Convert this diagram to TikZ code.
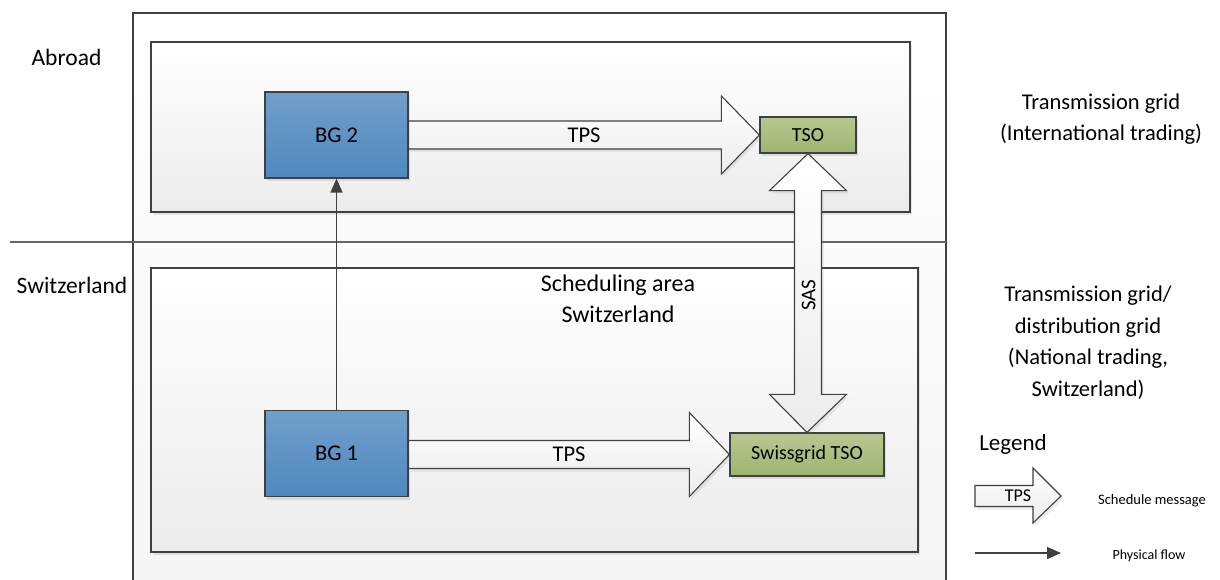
\documentclass[tikz,border=0pt]{standalone}
\usepackage{fontspec}
\setmainfont{Carlito}
\usetikzlibrary{calc,shadows,arrows.meta}

\definecolor{edge}{RGB}{64,64,64}
\definecolor{bgtop}{RGB}{112,159,203}
\definecolor{bgbot}{RGB}{80,136,190}
\definecolor{gntop}{RGB}{184,198,144}
\definecolor{gnbot}{RGB}{160,181,112}
\definecolor{paneltop}{RGB}{255,255,255}
\definecolor{panelbot}{RGB}{236,236,236}

\tikzset{
  txt/.style={font=\fontsize{22.5}{31.5}\selectfont, align=center, inner sep=0pt},
  panel/.style={draw=edge, line width=1.1pt, top color=paneltop, bottom color=panelbot,
    drop shadow={shadow xshift=2pt, shadow yshift=-3pt, opacity=0.18}},
  bgbox/.style={draw=edge, line width=1.2pt, top color=bgtop, bottom color=bgbot,
    minimum width=143pt, minimum height=86pt, inner sep=0pt,
    font=\fontsize{22.5}{27}\selectfont,
    drop shadow={shadow xshift=2pt, shadow yshift=-3pt, opacity=0.2}},
  tsobox/.style={draw=edge, line width=1.2pt, top color=gntop, bottom color=gnbot,
    inner sep=0pt, font=\fontsize{20}{24}\selectfont,
    drop shadow={shadow xshift=2pt, shadow yshift=-3pt, opacity=0.2}},
  blockarrow/.style={draw=edge, line width=1.1pt, line join=miter, top color=white, bottom color=panelbot,
    drop shadow={shadow xshift=2pt, shadow yshift=-3pt, opacity=0.15}},
  flow/.style={draw=edge, line width=1.3pt, -{Triangle[length=14pt,width=12pt]}},
}

\begin{document}
\begin{tikzpicture}[x=1pt, y=-1pt]
\useasboundingbox (0,0) rectangle (1220,579);
\clip (0,0) rectangle (1220,579);

% outer frame, open towards the bottom
\path[top color=white, bottom color=white!96!black] (133,13) rectangle (946,600);
\draw[edge, line width=1.1pt] (133,600) -- (133,13) -- (946,13) -- (946,600);

% border between the two countries
\draw[edge!80, line width=1.1pt] (10,242) -- (946,242);

% grid level panels
\path[panel] (151,42) rectangle (910,212);
\path[panel] (151,268) rectangle (918,552);

% side labels
\node[txt, font=\fontsize{23.5}{31.5}\selectfont] (abroad) at (66.5,57) {Abroad};
\node[txt, font=\fontsize{23.5}{31.5}\selectfont] (ch) at (72,285) {Switzerland};
\node[txt, font=\fontsize{24}{31.5}\selectfont] (area) at (618,298.5) {Scheduling area\\Switzerland};
\node[txt] (tgint) at (1101,119) {Transmission grid\\(International trading)};
\node[txt] (tgnat) at (1088,342.5) {Transmission grid/\\distribution grid\\(National trading,\\Switzerland)};

% participants
\node[bgbox] (bg2) at (336.5,135) {BG 2};
\node[bgbox] (bg1) at (336.5,453.5) {BG 1};
\node[tsobox, minimum width=96pt, minimum height=36pt] (tso) at (808,135) {TSO};
\node[tsobox, minimum width=154pt, minimum height=43pt] (sgtso) at (807,454.5) {Swissgrid TSO};

% schedule messages (TPS)
\path[blockarrow]
  ($(bg2.east |- tso.west)+(0,-14)$) -- ($(tso.west)+(-38,-14)$) -- ($(tso.west)+(-38,-39)$)
  -- (tso.west) -- ($(tso.west)+(-38,39)$) -- ($(tso.west)+(-38,14)$)
  -- ($(bg2.east |- tso.west)+(0,14)$) -- cycle;
\node[txt] (tps2) at ($(bg2.east |- tso.west)!0.5!(tso.west)$) {TPS};

\path[blockarrow]
  ($(bg1.east |- sgtso.west)+(0,-14)$) -- ($(sgtso.west)+(-40,-14)$) -- ($(sgtso.west)+(-40,-42)$)
  -- (sgtso.west) -- ($(sgtso.west)+(-40,42)$) -- ($(sgtso.west)+(-40,14)$)
  -- ($(bg1.east |- sgtso.west)+(0,14)$) -- cycle;
\node[txt] (tps1) at ($(bg1.east |- sgtso.west)!0.5!(sgtso.west)$) {TPS};

% settlement messages (SAS), both ways
\path[blockarrow]
  (tso.south) -- ($(tso.south)+(38.5,37)$) -- ($(tso.south)+(13.5,37)$)
  -- ($(sgtso.north)+(14.5,-38)$) -- ($(sgtso.north)+(39.5,-38)$) -- (sgtso.north)
  -- ($(sgtso.north)+(-37.5,-38)$) -- ($(sgtso.north)+(-12.5,-38)$)
  -- ($(tso.south)+(-13.5,37)$) -- ($(tso.south)+(-38.5,37)$) -- cycle;
\node[txt, font=\fontsize{21}{25}\selectfont, rotate=90] (sas) at (808.5,295) {SAS};

% physical flow
\draw[flow] (bg1.north) -- (bg2.south);

% legend
\node[txt, font=\fontsize{23}{27}\selectfont] (legend) at (1013,444) {Legend};
\coordinate (lgtip) at (1061,496);
\path[blockarrow]
  (975,485.5) -- ($(lgtip)+(-28,-10.5)$) -- ($(lgtip)+(-28,-28)$) -- (lgtip)
  -- ($(lgtip)+(-28,27)$) -- ($(lgtip)+(-28,10.5)$) -- (975,506.5) -- cycle;
\node[txt, font=\fontsize{18}{22}\selectfont] (lgtps) at (1018,495.5) {TPS};
\node[txt, font=\fontsize{14.5}{18}\selectfont] (lgsched) at (1152,501) {Schedule message};

\coordinate (lgfrom) at (975,553);
\coordinate (lgto) at (1061,553);
\draw[flow] (lgfrom) -- (lgto);
\node[txt, font=\fontsize{14}{18}\selectfont] (lgflow) at (1149,556) {Physical flow};
\end{tikzpicture}
\end{document}
